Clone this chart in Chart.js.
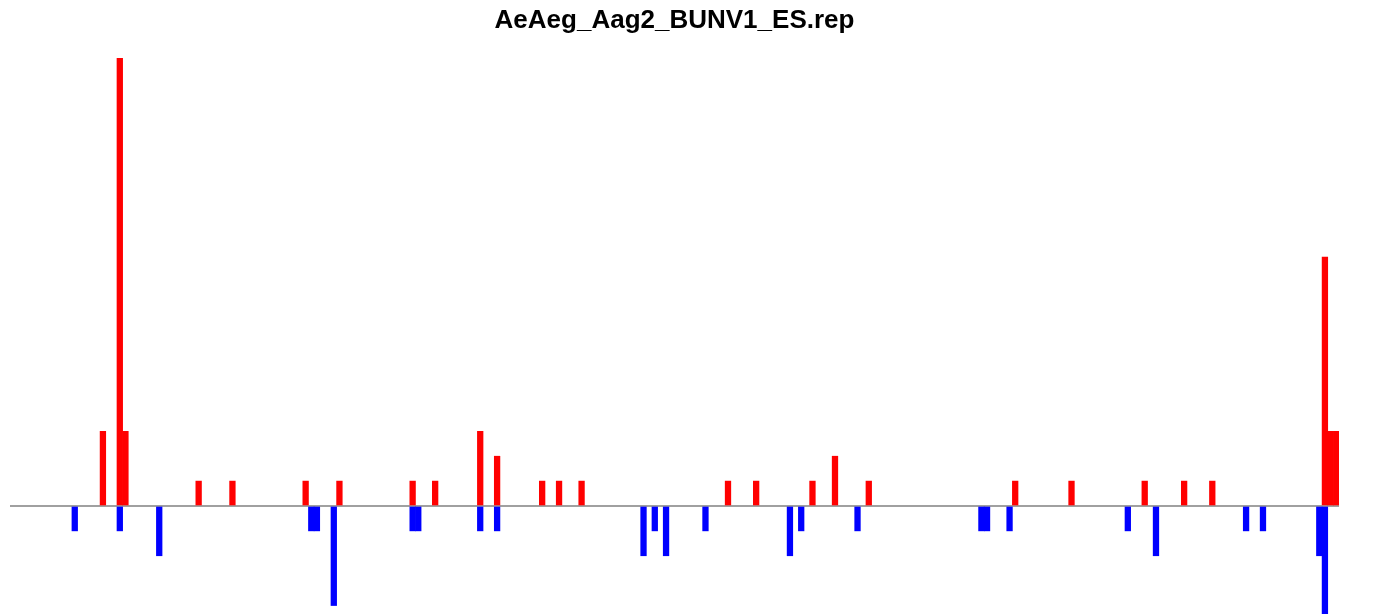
<!DOCTYPE html>
<html>
<head>
<meta charset="utf-8">
<title>AeAeg_Aag2_BUNV1_ES.rep</title>
<script src="https://cdn.jsdelivr.net/npm/chart.js@4/dist/chart.umd.min.js"></script>
<style>
    html, body { margin: 0; padding: 0; background: #ffffff; }
    #wrap { width: 1389px; height: 614px; position: relative; }
</style>
</head>
<body>
<div id="wrap"><canvas id="rep-chart"></canvas></div>
<script>
// =====================================================
// DATA — read counts per bin along the genome
// =====================================================

const chartTitle = 'AeAeg_Aag2_BUNV1_ES.rep';
const binCount = 236;

// forward strand (red, drawn upwards)
const fwdBins   = [16, 19, 20, 33, 39, 52, 58, 71, 75, 83, 86, 94, 97, 101, 127, 132, 142, 146, 152, 178, 188, 201, 208, 213, 233, 234, 235];
const fwdCounts = [ 3, 18,  3,  1,  1,  1,  1,  1,  1,  3,  2,  1,  1,   1,   1,   1,   1,   2,   1,   1,   1,   1,   1,   1,  10,   3,   3];

// reverse strand (blue, drawn downwards)
const revBins   = [11, 19, 26, 53, 54, 57, 71, 72, 83, 86, 112, 114, 116, 123, 138, 140, 150, 172, 173, 177, 198, 203, 219, 222, 232, 233];
const revCounts = [-1, -1, -2, -1, -1, -4, -1, -1, -1, -1,  -2,  -1,  -2,  -1,  -2,  -1,  -1,  -1,  -1,  -1,  -1,  -2,  -1,  -1,  -2,  -5];

const yMin = -4.34;
const yMax = 18;

// empty bins stay null so no zero-height bar smears the baseline
function toDense(bins, counts) {
    const arr = new Array(binCount).fill(null);
    bins.forEach((b, i) => { arr[b] = counts[i]; });
    return arr;
}

function initRepChart() {
    const ctx = document.getElementById('rep-chart');
    if (!ctx || typeof Chart === 'undefined') return;

    const labels = [];
    for (let i = 1; i <= binCount; i++) labels.push(String(i));

    new Chart(ctx, {
        type: 'bar',
        data: {
            labels,
            datasets: [
                { label: 'forward', data: toDense(fwdBins, fwdCounts), backgroundColor: '#ff0000', borderWidth: 0, barPercentage: 1, categoryPercentage: 1 },
                { label: 'reverse', data: toDense(revBins, revCounts), backgroundColor: '#0000ff', borderWidth: 0, barPercentage: 1, categoryPercentage: 1 }
            ]
        },
        options: {
            responsive: true, maintainAspectRatio: false,
            animation: false,
            layout: { padding: { left: 10, right: 50, top: 0, bottom: 0 } },
            plugins: {
                legend: { display: false },
                tooltip: { enabled: false },
                title: {
                    display: true,
                    text: chartTitle,
                    color: '#000000',
                    font: { family: 'Liberation Sans', size: 26, weight: 'bold', lineHeight: 1.2 },
                    padding: { top: 5, bottom: 21.8 }
                }
            },
            scales: {
                x: {
                    stacked: true,
                    display: false,
                    grid: { display: false }
                },
                y: {
                    stacked: true,
                    min: yMin, max: yMax,
                    border: { display: false },
                    ticks: { display: false, stepSize: 2 },
                    grid: {
                        drawTicks: false,
                        lineWidth: 2,
                        color: (c) => (c.tick && c.tick.value === 0) ? '#a0a0a0' : 'rgba(0,0,0,0)'
                    }
                }
            }
        }
    });
}

initRepChart();
</script>
</body>
</html>
